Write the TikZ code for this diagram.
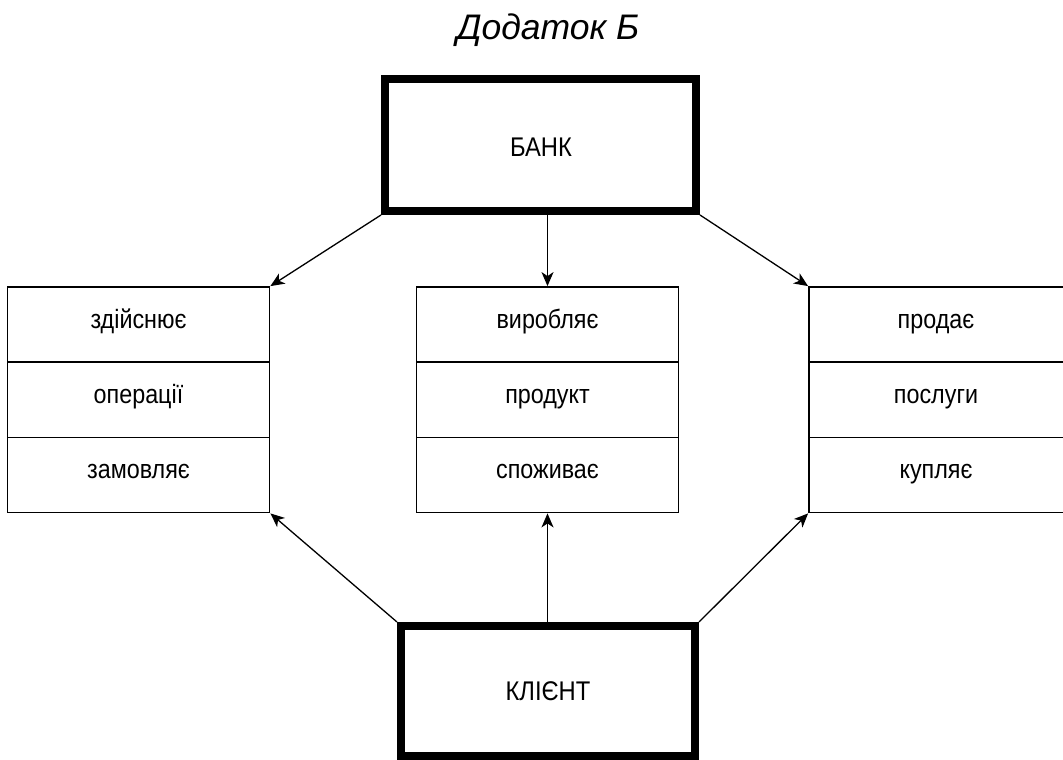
\documentclass[tikz,border=0pt]{standalone}
\usepackage{fontspec}
\setmainfont{Liberation Sans}
\newfontfamily\boxfont[FakeStretch=0.88]{Liberation Sans}
\usetikzlibrary{arrows.meta}
\tikzset{
  mainbox/.style={draw, line width=8pt, inner sep=0pt},
  maintext/.style={anchor=base, font=\boxfont\fontsize{27}{30}\selectfont},
  rowbox/.style={draw, line width=1.8pt, inner sep=0pt, minimum width=262pt, minimum height=75pt},
  rowtext/.style={anchor=base, font=\boxfont\fontsize{26.5}{29}\selectfont},
  conn/.style={line width=1.3pt, -{Stealth[length=14pt, width=12pt, inset=4pt]}},
}
\begin{document}
\begin{tikzpicture}[x=1pt,y=-1pt]
\useasboundingbox (0,0) rectangle (1063,760);
\clip (0,0) rectangle (1063,760);
% title
\node[anchor=base, font=\itshape\fontsize{35.5}{38}\selectfont] (title) at (548,40) {Додаток Б};
% main boxes
\node[mainbox, minimum width=311pt, minimum height=132pt] (bank) at (540.5,145) {};
\node[maintext] (banktxt) at (541,156) {БАНК};
\node[mainbox, minimum width=294pt, minimum height=130pt] (client) at (548,691) {};
\node[maintext] (clienttxt) at (548,700) {КЛІЄНТ};
% left group
\node[rowbox] (l1) at (138.5,324.5) {};
\node[rowbox] (l2) at (138.5,400) {};
\node[rowbox] (l3) at (138.5,475) {};
% middle group
\node[rowbox] (m1) at (547.5,324.5) {};
\node[rowbox] (m2) at (547.5,400) {};
\node[rowbox] (m3) at (547.5,475) {};
% right group
\node[rowbox] (r1) at (940,324.5) {};
\node[rowbox] (r2) at (940,400) {};
\node[rowbox] (r3) at (940,475) {};
% row texts
\node[rowtext] (tl1) at (138.5,328) {здійснює};
\node[rowtext] (tl2) at (138.5,403) {операції};
\node[rowtext] (tl3) at (138.5,478) {замовляє};
\node[rowtext] (tm1) at (547.5,328) {виробляє};
\node[rowtext] (tm2) at (547.5,403) {продукт};
\node[rowtext] (tm3) at (547.5,478) {споживає};
\node[rowtext] (tr1) at (936,328) {продає};
\node[rowtext] (tr2) at (936,403) {послуги};
\node[rowtext] (tr3) at (936,478) {купляє};
% connectors
\draw[conn] (bank.south west) -- (l1.north east);
\draw[conn] (bank.south -| m1.north) -- (m1.north);
\draw[conn] (bank.south east) -- (r1.north west);
\draw[conn] (client.north west) -- (l3.south east);
\draw[conn] (client.north -| m3.south) -- (m3.south);
\draw[conn] (client.north east) -- (r3.south west);
\end{tikzpicture}
\end{document}
